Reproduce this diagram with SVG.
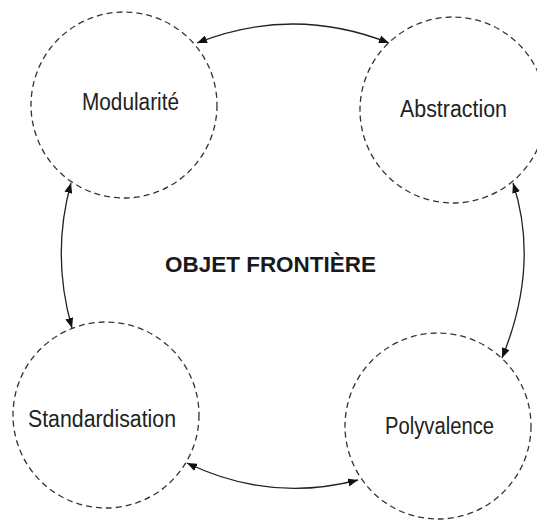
<svg xmlns="http://www.w3.org/2000/svg" width="537" height="520" viewBox="0 0 537 520">
<style>
.node{fill:none;stroke:#333;stroke-width:1.3;stroke-dasharray:6 4}
.lbl{font-family:"Liberation Sans",Arial,sans-serif;font-size:23px;fill:#222;text-anchor:middle}
.title{font-family:"Liberation Sans",Arial,sans-serif;font-size:22px;font-weight:bold;fill:#1a1a1a;text-anchor:middle}
.conn{fill:none;stroke:#222;stroke-width:1.3;marker-start:url(#ah);marker-end:url(#ah)}
</style>
<defs>
<marker id="ah" viewBox="0 0 10 8" refX="10" refY="4" markerWidth="10" markerHeight="8" markerUnits="userSpaceOnUse" orient="auto-start-reverse">
<path d="M0,0 L10,4 L0,8 Z" fill="#111"/>
</marker>
</defs>
<rect width="537" height="520" fill="#fff"/>
<g id="connectors">
<path class="conn" d="M197,43 Q293,5 389,43"/>
<path class="conn" d="M71,183 Q51,255 72,328"/>
<path class="conn" d="M513,183 Q540,265 502,358"/>
<path class="conn" d="M187,463 Q270,503 358,480"/>
</g>
<g id="modularite">
<circle class="node" cx="124" cy="105" r="93"/>
<text class="lbl" x="130.5" y="110" textLength="97" lengthAdjust="spacingAndGlyphs">Modularité</text>
</g>
<g id="abstraction">
<circle class="node" cx="453" cy="110" r="93"/>
<text class="lbl" x="453.5" y="117" textLength="107" lengthAdjust="spacingAndGlyphs">Abstraction</text>
</g>
<g id="standardisation">
<circle class="node" cx="106" cy="415" r="93"/>
<text class="lbl" x="102" y="427" textLength="148" lengthAdjust="spacingAndGlyphs">Standardisation</text>
</g>
<g id="polyvalence">
<circle class="node" cx="438" cy="426" r="93"/>
<text class="lbl" x="439.5" y="434" textLength="109" lengthAdjust="spacingAndGlyphs">Polyvalence</text>
</g>
<g id="objet-frontiere">
<text class="title" x="270.5" y="272" textLength="211" lengthAdjust="spacingAndGlyphs">OBJET FRONTIÈRE</text>
</g>
</svg>
